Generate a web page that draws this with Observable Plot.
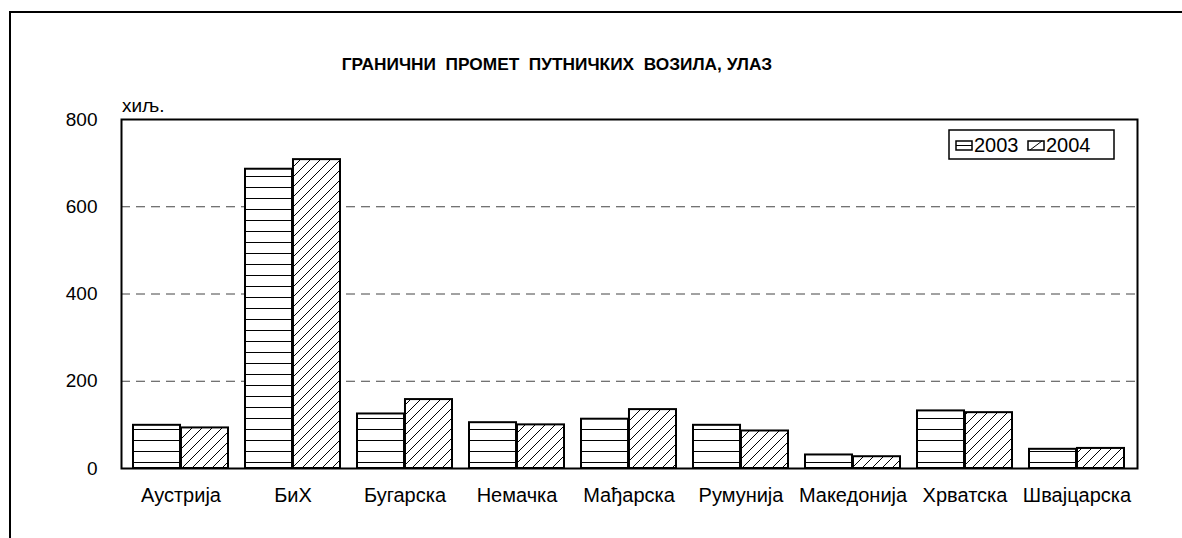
<!DOCTYPE html>
<html>
<head>
<meta charset="utf-8">
<script src="https://cdn.jsdelivr.net/npm/d3@7"></script>
<script src="https://cdn.jsdelivr.net/npm/@observablehq/plot@0.6"></script>
<style>
  body { margin: 0; background: #fff; }
  #chart { width: 1182px; height: 538px; overflow: hidden; }
</style>
</head>
<body>
<div id="chart"></div>
<script>
const countries = ["Аустрија", "БиХ", "Бугарска", "Немачка", "Мађарска", "Румунија", "Македонија", "Хрватска", "Швајцарска"];
const years = ["2003", "2004"];
const values2003 = [99, 686, 125, 105, 113, 99, 31, 132, 44];
const values2004 = [93, 708, 158, 100, 135, 86, 27, 128, 46];
const yTicks = [0, 200, 400, 600, 800];
const gridTicks = [200, 400, 600];
const titleText = "ГРАНИЧНИ  ПРОМЕТ  ПУТНИЧКИХ  ВОЗИЛА, УЛАЗ";
const unitText = "хиљ.";

const d2003 = countries.map((c, i) => ({country: c, year: years[0], value: values2003[i]}));
const d2004 = countries.map((c, i) => ({country: c, year: years[1], value: values2004[i]}));

const FONT = "'Liberation Sans', Arial, sans-serif";
const W = 1182, H = 538, ML = 121, MR = 45, MT = 119, MB = 70;
const PAD_IN = 0.15, PAD_OUT = 0.075;
const step = (W - ML - MR) / (countries.length - PAD_IN + 2 * PAD_OUT);
const half = step * (1 - PAD_IN) / 2;

const svg = Plot.plot({
  width: W,
  height: H,
  marginLeft: ML,
  marginRight: MR,
  marginTop: MT,
  marginBottom: MB,
  style: {fontFamily: FONT, fontSize: "19px", color: "#000", background: "#fff", overflow: "visible"},
  x: {domain: countries, paddingInner: PAD_IN, paddingOuter: PAD_OUT, label: null},
  y: {domain: [0, 800], label: null},
  color: {domain: years, range: ["url(#pat-h)", "url(#pat-d)"]},
  marks: [
    Plot.ruleY(gridTicks, {stroke: "#444", strokeWidth: 1, strokeDasharray: "9,6"}),
    Plot.barY(d2003, {x: "country", y: "value", fill: "year", stroke: "#000", strokeWidth: 2, insetRight: half}),
    Plot.barY(d2004, {x: "country", y: "value", fill: "year", stroke: "#000", strokeWidth: 2, insetLeft: half}),
    Plot.frame({stroke: "#000", strokeWidth: 2}),
    Plot.axisX({tickSize: 0, tickPadding: 19, fontSize: 20, label: null}),
    Plot.axisY(yTicks, {tickSize: 0, tickPadding: 24, fontSize: 19, label: null})
  ]
});

const s = d3.select(svg);
const defs = s.insert("defs", ":first-child");
const ph = defs.append("pattern").attr("id", "pat-h").attr("patternUnits", "userSpaceOnUse")
  .attr("width", 8).attr("height", 11);
ph.append("rect").attr("width", 8).attr("height", 11).attr("fill", "#fff");
ph.append("line").attr("x1", 0).attr("x2", 8).attr("y1", 0.5).attr("y2", 0.5).attr("stroke", "#000").attr("stroke-width", 1);
const pd = defs.append("pattern").attr("id", "pat-d").attr("patternUnits", "userSpaceOnUse")
  .attr("width", 10).attr("height", 10);
pd.append("rect").attr("width", 10).attr("height", 10).attr("fill", "#fff");
pd.append("path").attr("d", "M0,10L10,0M-2.5,2.5L2.5,-2.5M7.5,12.5L12.5,7.5").attr("stroke", "#000").attr("stroke-width", 1);

// outer frame
s.append("path").attr("d", "M10,560V12H1200").attr("fill", "none").attr("stroke", "#000").attr("stroke-width", 2);

// title
s.append("text").attr("x", 557).attr("y", 70).attr("text-anchor", "middle")
  .style("white-space", "pre").style("font-weight", "bold").style("font-size", "17.3px").style("font-family", FONT)
  .text(titleText);

// unit
s.append("text").attr("x", 122).attr("y", 112).attr("text-anchor", "start")
  .style("font-size", "19px").style("font-family", FONT).text(unitText);

// legend
const lg = s.append("g").attr("text-anchor", "start").style("font-family", FONT).style("font-size", "20px");
lg.append("rect").attr("x", 949).attr("y", 130).attr("width", 165).attr("height", 29).attr("fill", "#fff").attr("stroke", "#000").attr("stroke-width", 1.5);
lg.append("rect").attr("x", 956).attr("y", 141).attr("width", 16).attr("height", 9).attr("fill", "#fff").attr("stroke", "#000").attr("stroke-width", 1.5);
lg.append("line").attr("x1", 956).attr("x2", 972).attr("y1", 145.5).attr("y2", 145.5).attr("stroke", "#000").attr("stroke-width", 1);
lg.append("text").attr("x", 974).attr("y", 152).text(years[0]);
lg.append("rect").attr("x", 1028).attr("y", 141).attr("width", 16).attr("height", 9).attr("fill", "#fff").attr("stroke", "#000").attr("stroke-width", 1.5);
lg.append("line").attr("x1", 1030).attr("x2", 1042).attr("y1", 150).attr("y2", 141).attr("stroke", "#000").attr("stroke-width", 1);
lg.append("text").attr("x", 1046).attr("y", 152).text(years[1]);

document.getElementById("chart").appendChild(svg);
</script>
</body>
</html>
